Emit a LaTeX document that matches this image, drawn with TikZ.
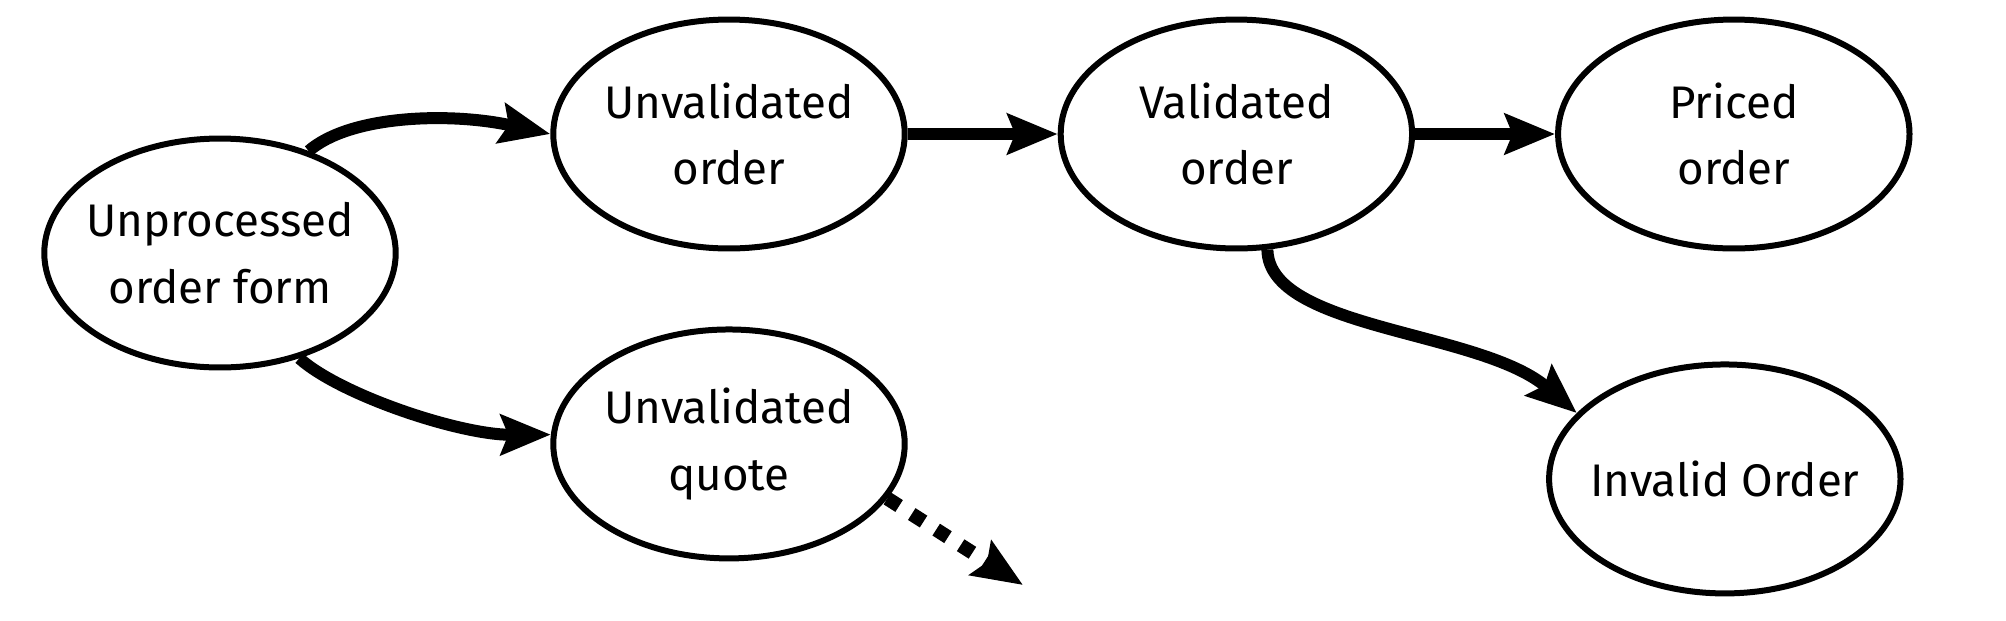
\documentclass[tikz,border=0pt]{standalone}
\usepackage{fontspec}
\setmainfont{Fira Sans}
\usetikzlibrary{arrows.meta}
\usetikzlibrary{shapes.geometric, positioning}

\begin{document}
\begin{tikzpicture}[x=0.02cm, y=-0.02cm, node distance=3cm,
    state/.style={draw, ellipse, line width=0.12cm, minimum width=7.03cm, minimum height=4.58cm,
        inner xsep=-1cm, inner ysep=0pt, align=center, font=\fontsize{26}{38}\selectfont},
    flow/.style={-{Stealth[length=1cm, width=0.8cm, inset=0.15cm]}, line width=0.24cm}]
    \useasboundingbox (0,0) rectangle (2006,620);

    \node[state] (unproc) at (220,253) {Unprocessed\\order form};
    \node[state] (unvalorder) at (729,134) {Unvalidated\\order};
    \node[state, right=3cm of unvalorder] (valorder) {Validated\\order};
    \node[state, right=2.8cm of valorder] (priced) {Priced\\order};
    \node[state, below=1.5cm of unvalorder] (unvalquote) {Unvalidated\\quote};
    \node[state, below=2.2cm of priced, xshift=-0.18cm] (invalid) {Invalid Order};
    \coordinate (quoteout) at (1023,585);

    \draw[flow] (unproc.49) .. controls (350,115) and (450,112) .. (unvalorder.west);
    \draw[flow] (unproc.-53) .. controls (340,395) and (460,435) .. (unvalquote.177);
    \draw[flow] (unvalorder.east) -- (valorder.west);
    \draw[flow] (valorder.east) -- (priced.west);
    \draw[flow] (valorder.-75) .. controls (1269,330) and (1480,330) .. (invalid.156);
    \draw[flow, line width=0.28cm, dash pattern=on 0.28cm off 0.3cm] (unvalquote.-19) -- (quoteout);
\end{tikzpicture}
\end{document}
